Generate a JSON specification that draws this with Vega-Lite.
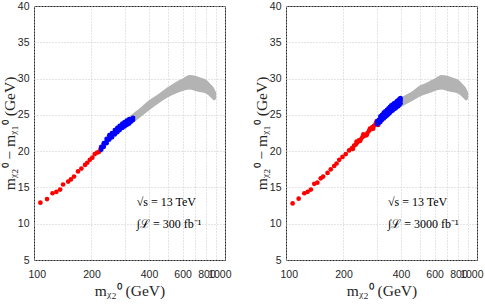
{
  "$schema": "https://vega.github.io/schema/vega-lite/v6.json",
  "padding": {"left": 1, "top": 0, "right": 5, "bottom": 0},
  "config": {
    "view": {"stroke": "#262626", "strokeWidth": 1},
    "axis": {
      "labelFont": "Liberation Sans", "labelFontSize": 10.5, "labelColor": "#262626",
      "labelOverlap": false, "labelBound": false, "labelFlush": false,
      "titleFont": "Liberation Serif", "titleFontSize": 15.5, "titleFontWeight": "normal", "titleColor": "#262626",
      "ticks": false, "domain": false, "grid": true, "gridDash": [1, 2], "gridColor": "#c8c8c8"
    }
  },
  "data": {"values": [
    {"p":"L","s":"g","x":285,"y":23.0,"y2":23.8},{"p":"L","s":"g","x":300,"y":23.2,"y2":24.3},{"p":"L","s":"g","x":330,"y":23.9,"y2":25.2},{"p":"L","s":"g","x":350,"y":24.4,"y2":25.7},{"p":"L","s":"g","x":400,"y":25.6,"y2":27.0},{"p":"L","s":"g","x":450,"y":26.6,"y2":27.9},{"p":"L","s":"g","x":500,"y":27.4,"y2":28.8},{"p":"L","s":"g","x":550,"y":27.9,"y2":29.5},{"p":"L","s":"g","x":600,"y":28.3,"y2":30.0},{"p":"L","s":"g","x":650,"y":28.5,"y2":30.5},{"p":"L","s":"g","x":700,"y":28.3,"y2":30.4},{"p":"L","s":"g","x":750,"y":28.1,"y2":30.1},{"p":"L","s":"g","x":800,"y":27.9,"y2":29.8},{"p":"L","s":"g","x":850,"y":27.3,"y2":29.1},{"p":"L","s":"g","x":880,"y":27.0,"y2":28.6},{"p":"L","s":"g","x":900,"y":27.3,"y2":28.0},
    {"p":"R","s":"g","x":395,"y":26.0,"y2":27.3},{"p":"R","s":"g","x":420,"y":26.4,"y2":27.7},{"p":"R","s":"g","x":450,"y":26.8,"y2":28.1},{"p":"R","s":"g","x":500,"y":27.5,"y2":29.0},{"p":"R","s":"g","x":550,"y":27.9,"y2":29.5},{"p":"R","s":"g","x":600,"y":28.3,"y2":30.0},{"p":"R","s":"g","x":650,"y":28.5,"y2":30.5},{"p":"R","s":"g","x":700,"y":28.3,"y2":30.4},{"p":"R","s":"g","x":750,"y":28.1,"y2":30.1},{"p":"R","s":"g","x":800,"y":27.9,"y2":29.8},{"p":"R","s":"g","x":850,"y":27.3,"y2":29.1},{"p":"R","s":"g","x":880,"y":27.0,"y2":28.6},{"p":"R","s":"g","x":900,"y":27.3,"y2":28.0},

    {"p":"L","s":"r","x":108,"y":12.9},{"p":"L","s":"r","x":117,"y":13.4},{"p":"L","s":"r","x":125,"y":14.2},{"p":"L","s":"r","x":131,"y":14.4},{"p":"L","s":"r","x":137,"y":14.7},{"p":"L","s":"r","x":142,"y":15.4},{"p":"L","s":"r","x":151,"y":15.8},{"p":"L","s":"r","x":156,"y":16.1},{"p":"L","s":"r","x":162,"y":16.5},{"p":"L","s":"r","x":170,"y":17.2},{"p":"L","s":"r","x":177,"y":17.6},{"p":"L","s":"r","x":185,"y":18.1},{"p":"L","s":"r","x":190,"y":18.4},{"p":"L","s":"r","x":196,"y":18.8},{"p":"L","s":"r","x":202,"y":19.1},{"p":"L","s":"r","x":208,"y":19.6},{"p":"L","s":"r","x":214,"y":19.8},{"p":"L","s":"r","x":219,"y":19.9},{"p":"L","s":"r","x":223,"y":20.3},{"p":"L","s":"r","x":228,"y":20.6},{"p":"L","s":"r","x":232,"y":20.9},

    {"p":"L","s":"b","x":225,"y":20.2},{"p":"L","s":"b","x":225,"y":20.6},{"p":"L","s":"b","x":232,"y":20.6},{"p":"L","s":"b","x":232,"y":21.1},{"p":"L","s":"b","x":240,"y":21.1},{"p":"L","s":"b","x":240,"y":21.4},{"p":"L","s":"b","x":240,"y":21.7},{"p":"L","s":"b","x":248,"y":21.6},{"p":"L","s":"b","x":248,"y":21.9},{"p":"L","s":"b","x":248,"y":22.2},{"p":"L","s":"b","x":256,"y":21.9},{"p":"L","s":"b","x":256,"y":22.2},{"p":"L","s":"b","x":256,"y":22.5},{"p":"L","s":"b","x":265,"y":22.3},{"p":"L","s":"b","x":265,"y":22.6},{"p":"L","s":"b","x":265,"y":22.9},{"p":"L","s":"b","x":273,"y":22.6},{"p":"L","s":"b","x":273,"y":22.9},{"p":"L","s":"b","x":273,"y":23.2},{"p":"L","s":"b","x":281,"y":22.9},{"p":"L","s":"b","x":281,"y":23.2},{"p":"L","s":"b","x":281,"y":23.5},{"p":"L","s":"b","x":290,"y":23.2},{"p":"L","s":"b","x":290,"y":23.5},{"p":"L","s":"b","x":290,"y":23.8},{"p":"L","s":"b","x":298,"y":23.4},{"p":"L","s":"b","x":298,"y":23.7},{"p":"L","s":"b","x":298,"y":24.0},{"p":"L","s":"b","x":306,"y":23.6},{"p":"L","s":"b","x":306,"y":23.9},{"p":"L","s":"b","x":306,"y":24.2},{"p":"L","s":"b","x":315,"y":23.8},{"p":"L","s":"b","x":315,"y":24.1},{"p":"L","s":"b","x":315,"y":24.4},{"p":"L","s":"b","x":323,"y":24.1},{"p":"L","s":"b","x":323,"y":24.4},{"p":"L","s":"b","x":330,"y":24.3},{"p":"L","s":"b","x":330,"y":24.6},

    {"p":"R","s":"r","x":108.3,"y":12.8},{"p":"R","s":"r","x":116.5,"y":13.45},{"p":"R","s":"r","x":124.7,"y":14.2},{"p":"R","s":"r","x":129.8,"y":14.4},{"p":"R","s":"r","x":135,"y":14.7},{"p":"R","s":"r","x":140.6,"y":15.5},{"p":"R","s":"r","x":146,"y":15.65},{"p":"R","s":"r","x":152,"y":16.25},{"p":"R","s":"r","x":156.5,"y":16.5},{"p":"R","s":"r","x":165,"y":17.0},{"p":"R","s":"r","x":171.6,"y":17.5},{"p":"R","s":"r","x":178.7,"y":17.95},{"p":"R","s":"r","x":184,"y":18.3},{"p":"R","s":"r","x":190,"y":18.8},{"p":"R","s":"r","x":197.6,"y":19.2},{"p":"R","s":"r","x":205.5,"y":19.6},{"p":"R","s":"r","x":214,"y":20.1},{"p":"R","s":"r","x":221,"y":20.4},{"p":"R","s":"r","x":227,"y":20.75},{"p":"R","s":"r","x":232,"y":20.9},{"p":"R","s":"r","x":236.5,"y":21.2},{"p":"R","s":"r","x":241,"y":21.5},{"p":"R","s":"r","x":246,"y":21.6},{"p":"R","s":"r","x":251,"y":21.9},{"p":"R","s":"r","x":256,"y":22.1},{"p":"R","s":"r","x":261,"y":22.2},{"p":"R","s":"r","x":267,"y":22.5},{"p":"R","s":"r","x":272,"y":22.8},{"p":"R","s":"r","x":278,"y":23.0},{"p":"R","s":"r","x":283,"y":23.3},{"p":"R","s":"r","x":289,"y":23.5},{"p":"R","s":"r","x":295,"y":23.8},{"p":"R","s":"r","x":301,"y":23.9},{"p":"R","s":"r","x":307,"y":24.1},{"p":"R","s":"r","x":313,"y":24.3},
    {"p":"R","s":"r","x":224,"y":20.3},{"p":"R","s":"r","x":234,"y":21.3},{"p":"R","s":"r","x":244,"y":21.4},{"p":"R","s":"r","x":254,"y":22.3},{"p":"R","s":"r","x":264,"y":22.2},{"p":"R","s":"r","x":275,"y":23.1},{"p":"R","s":"r","x":286,"y":23.1},{"p":"R","s":"r","x":298,"y":24.1},{"p":"R","s":"r","x":304,"y":23.6},

    {"p":"R","s":"b","x":300,"y":23.7},{"p":"R","s":"b","x":300,"y":24.1},{"p":"R","s":"b","x":306,"y":23.9},{"p":"R","s":"b","x":306,"y":24.3},{"p":"R","s":"b","x":312,"y":24.0},{"p":"R","s":"b","x":312,"y":24.4},{"p":"R","s":"b","x":312,"y":24.8},{"p":"R","s":"b","x":318,"y":24.3},{"p":"R","s":"b","x":318,"y":24.7},{"p":"R","s":"b","x":318,"y":25.0},{"p":"R","s":"b","x":325,"y":24.5},{"p":"R","s":"b","x":325,"y":24.9},{"p":"R","s":"b","x":325,"y":25.3},{"p":"R","s":"b","x":331,"y":24.7},{"p":"R","s":"b","x":331,"y":25.1},{"p":"R","s":"b","x":331,"y":25.5},{"p":"R","s":"b","x":338,"y":24.9},{"p":"R","s":"b","x":338,"y":25.3},{"p":"R","s":"b","x":338,"y":25.7},{"p":"R","s":"b","x":344,"y":25.1},{"p":"R","s":"b","x":344,"y":25.5},{"p":"R","s":"b","x":344,"y":25.9},{"p":"R","s":"b","x":350,"y":25.3},{"p":"R","s":"b","x":350,"y":25.7},{"p":"R","s":"b","x":350,"y":26.1},{"p":"R","s":"b","x":356,"y":25.5},{"p":"R","s":"b","x":356,"y":25.9},{"p":"R","s":"b","x":356,"y":26.3},{"p":"R","s":"b","x":362,"y":25.6},{"p":"R","s":"b","x":362,"y":26.0},{"p":"R","s":"b","x":362,"y":26.4},{"p":"R","s":"b","x":368,"y":25.8},{"p":"R","s":"b","x":368,"y":26.2},{"p":"R","s":"b","x":368,"y":26.6},{"p":"R","s":"b","x":375,"y":25.9},{"p":"R","s":"b","x":375,"y":26.3},{"p":"R","s":"b","x":375,"y":26.7},{"p":"R","s":"b","x":381,"y":26.1},{"p":"R","s":"b","x":381,"y":26.5},{"p":"R","s":"b","x":381,"y":26.9},{"p":"R","s":"b","x":387,"y":26.2},{"p":"R","s":"b","x":387,"y":26.6},{"p":"R","s":"b","x":387,"y":27.0},{"p":"R","s":"b","x":393,"y":26.4},{"p":"R","s":"b","x":393,"y":26.8},{"p":"R","s":"b","x":393,"y":27.2},{"p":"R","s":"b","x":398,"y":26.6},{"p":"R","s":"b","x":398,"y":27.0},{"p":"R","s":"b","x":398,"y":27.3},

    {"p":"L","s":"t","x":345,"y":13.0,"t":"√s = 13 TeV"},{"p":"L","s":"t","x":345,"y":10.0,"t":"∫ℒ = 300 fb⁻¹"},
    {"p":"R","s":"t","x":342,"y":13.0,"t":"√s = 13 TeV"},{"p":"R","s":"t","x":342,"y":10.0,"t":"∫ℒ = 3000 fb⁻¹"}
  ]},
  "facet": {"column": {"field": "p", "title": null, "header": {"labels": false, "title": null}}},
  "spacing": {"column": 27},
  "resolve": {"axis": {"y": "independent"}},
  "spec": {
    "width": 191,
    "height": 254,
    "layer": [
      {
        "transform": [{"filter": "datum.s == 'g'"}],
        "mark": {"type": "area", "color": "#b3b3b3", "interpolate": "monotone"},
        "encoding": {
          "x": {"field": "x", "type": "quantitative",
                "scale": {"type": "log", "domain": [100, 1000], "nice": false},
                "axis": {"values": [100,200,300,400,500,600,700,800,900,1000],
                         "labelExpr": "indexof([300,500,700,900], datum.value) >= 0 ? '' : '' + datum.value",
                         "labelOverlap": false, "labelFlush": true, "labelFlushOffset": 6,
                         "labelPadding": 3, "titlePadding": 4, "title": "mᵪ₂⁰ (GeV)"}},
          "y": {"field": "y", "type": "quantitative",
                "scale": {"domain": [5, 40], "nice": false, "zero": false},
                "axis": {"tickCount": 7, "labelOverlap": false, "labelPadding": 5, "titlePadding": 0,
                         "title": "mᵪ₂⁰  −  mᵪ₁⁰  (GeV)"}},
          "y2": {"field": "y2"}
        }
      },
      {
        "transform": [{"filter": "datum.s == 'r' || datum.s == 'b'"}],
        "mark": {"type": "circle", "size": 22, "opacity": 1},
        "encoding": {
          "x": {"field": "x", "type": "quantitative"},
          "y": {"field": "y", "type": "quantitative"},
          "color": {"field": "s", "type": "nominal", "scale": {"domain": ["r", "b"], "range": ["#ff0000", "#0000ff"]}, "legend": null}
        }
      },
      {
        "transform": [{"filter": "datum.s == 't'"}],
        "mark": {"type": "text", "align": "left", "baseline": "middle", "font": "Liberation Serif", "fontSize": 12, "color": "#000000"},
        "encoding": {
          "x": {"field": "x", "type": "quantitative"},
          "y": {"field": "y", "type": "quantitative"},
          "text": {"field": "t"}
        }
      }
    ]
  }
}
